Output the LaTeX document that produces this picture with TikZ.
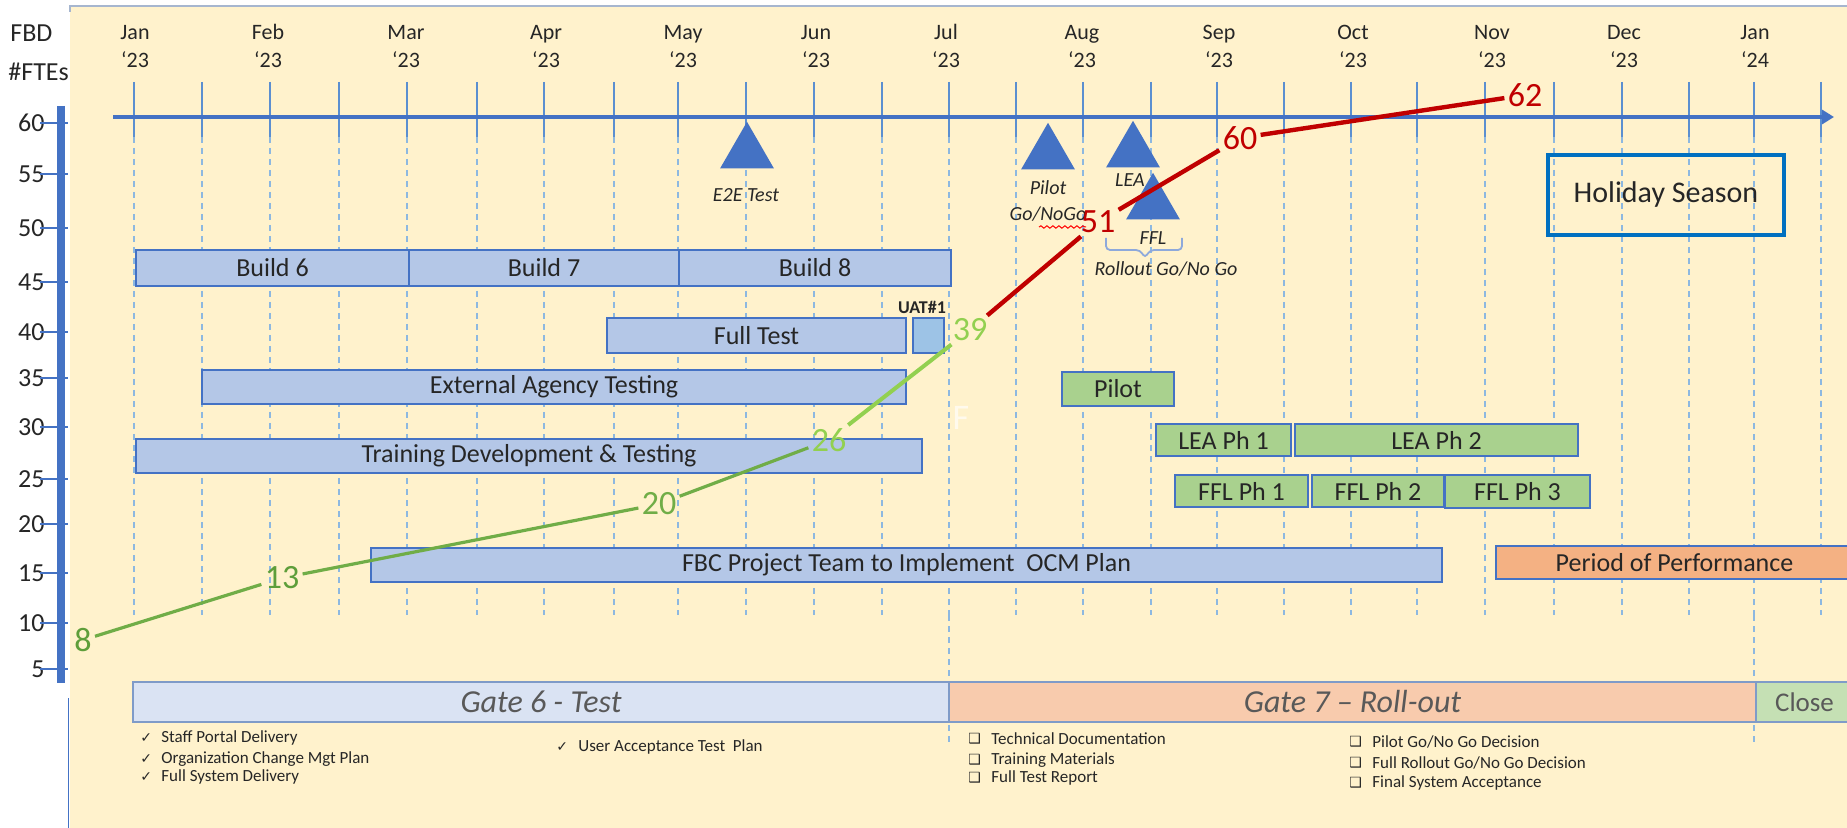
\documentclass[tikz,border=0pt]{standalone}
\usepackage{fontspec}
\setmainfont{Carlito}
\newfontfamily\symf{DejaVu Sans}
\usetikzlibrary{shapes.geometric,arrows.meta,decorations.pathmorphing}
\definecolor{bgy}{HTML}{FFF2CC}
\definecolor{axb}{HTML}{4472C4}
\definecolor{gridb}{HTML}{5B8FD0}
\definecolor{dashb}{HTML}{8DB8E0}
\definecolor{barb}{HTML}{B4C7E7}
\definecolor{barg}{HTML}{A9D18E}
\definecolor{uatb}{HTML}{9DC3E6}
\definecolor{perf}{HTML}{F4B183}
\definecolor{gsix}{HTML}{DAE3F3}
\definecolor{gseven}{HTML}{F8CBAD}
\definecolor{gclose}{HTML}{C5E0B4}
\definecolor{gateb}{HTML}{7F9BC8}
\definecolor{redl}{HTML}{C00000}
\definecolor{grnA}{HTML}{5E9E3A}
\definecolor{grnB}{HTML}{70AD47}
\definecolor{grnC}{HTML}{92D050}
\definecolor{holb}{HTML}{0070C0}
\definecolor{gatetxt}{HTML}{595959}
\definecolor{frameb}{HTML}{A6B6CF}
\definecolor{braceb}{HTML}{8EA9DB}
\definecolor{txt}{HTML}{262626}
\newcommand\mkbar[7]{\node[#1,anchor=north west,minimum width={0.5pt*(#4-#2)},minimum height={0.5pt*(#5-#3)}] (#6) at (#2,#3) {#7};}
\tikzset{
 ylab/.style={font=\fontsize{13}{15}\selectfont, inner sep=0pt, text=txt},
 mon/.style={font=\fontsize{11}{13}\selectfont, inner sep=0pt, text=txt, anchor=base},
 bar/.style={draw=axb, line width=1pt, fill=barb, inner sep=0pt, text=txt, font=\fontsize{13}{15}\selectfont},
 gbar/.style={bar, fill=barg},
 gatebar/.style={draw=gateb, line width=1pt, inner sep=0pt, text=gatetxt, font=\fontsize{16}{18}\selectfont\itshape},
 ms/.style={regular polygon, regular polygon sides=3, fill=axb, draw=none, minimum size=31pt, inner sep=0pt, anchor=corner 1},
 mslbl/.style={font=\fontsize{10}{12}\selectfont\itshape, inner sep=0pt, text=txt},
 num/.style={font=\fontsize{17}{19}\selectfont, inner sep=1.5pt},
 chk/.style={font=\fontsize{8.5}{10}\selectfont, inner sep=0pt, anchor=west, text=txt},
 sym/.style={font=\symf\fontsize{7}{8}\selectfont, inner sep=0pt, anchor=west, text=txt},
 dgrid/.style={dashb, line width=0.7pt, dash pattern=on 3pt off 2.5pt},
}
\begin{document}
\begin{tikzpicture}[x=0.5pt,y=-0.5pt]
\useasboundingbox (0,0) rectangle (1847,828);
\fill[white] (0,0) rectangle (1847,828);
% axis title (partly covered by the yellow panel)
\node[ylab, anchor=west] (fbd) at (10,33) {FBD};
\node[ylab, anchor=west] (ftes) at (8,72) {\#FTEs};
\fill[bgy] (70,6) rectangle (1847,828);
\draw[frameb, line width=1pt] (70,12) -- (70,6) -- (1847,6);
\draw[axb, line width=0.5pt] (68,698) -- (68,828);
% grid lines
\foreach \gx in {134,202,270,339,407,477,544,614,678,746,814,882,949,1016,1083,1151,1217,1284,1351,1417,1485,1554,1622,1689,1754,1821} {
  \draw[gridb, line width=0.7pt] (\gx,82) -- (\gx,137);
  \draw[dgrid] (\gx,137) -- (\gx,615);
}
\draw[dgrid] (949,615) -- (949,742);
\draw[dgrid] (1754,615) -- (1754,742);
% time axis
\draw[axb, line width=2pt, -{Triangle[length=6pt,width=7pt]}] (113,117) -- (1834,117);
% FTE axis
\draw[axb, line width=4pt] (61,106) -- (61,683);
\foreach \v/\yy in {60/123,55/174,50/228,45/282,40/332,35/378,30/427,25/479,20/524,15/573,10/623,5/669} {
  \node[ylab, anchor=east] (yl\v) at (45,\yy) {\v};
  \draw[axb, line width=1.2pt] (40,\yy) -- (68,\yy);
}
% month labels
\foreach \mx/\mn/\yr in {135/Jan/23,268/Feb/23,406/Mar/23,546/Apr/23,683/May/23,816/Jun/23,946/Jul/23,1082/Aug/23,1219/Sep/23,1353/Oct/23,1492/Nov/23,1624/Dec/23,1755/Jan/24} {
  \node[mon] (m\mn\yr) at (\mx,40) {\mn};
  \node[mon] (y\mn\yr) at (\mx,68) {‘\yr};
}
% holiday season
\node[draw=holb, line width=2pt, anchor=north west, minimum width=118pt, minimum height=40pt, inner sep=0pt, text=txt, font=\fontsize{15}{17}\selectfont] (hol) at (1546,153) {Holiday Season};
% bars
\mkbar{bar}{135}{249}{408}{285}{b6}{Build 6}
\mkbar{bar}{408}{249}{678}{285}{b7}{Build 7}
\mkbar{bar}{678}{249}{950}{285}{b8}{Build 8}
\mkbar{bar}{606}{317}{905}{352}{ft}{Full Test}
\mkbar{bar, fill=uatb}{912}{317}{943}{352}{uat}{}
\node[font=\fontsize{9}{10}\selectfont\bfseries, inner sep=0pt, text=txt] (uatl) at (922,307) {UAT\#1};
\mkbar{bar}{201}{369}{905}{403}{eat}{External Agency Testing}
\mkbar{bar}{135}{438}{921}{472}{tdt}{Training Development \& Testing}
\mkbar{bar}{370}{547}{1441}{581}{fbc}{FBC Project Team to Implement~ OCM Plan}
\mkbar{gbar}{1061}{371}{1173}{405}{pil}{Pilot}
\mkbar{gbar}{1155}{423}{1290}{455}{lea1}{LEA Ph 1}
\mkbar{gbar}{1294}{423}{1577}{455}{lea2}{LEA Ph 2}
\mkbar{gbar}{1174}{474}{1307}{506}{ffl1}{FFL Ph 1}
\mkbar{gbar}{1311}{474}{1443}{506}{ffl2}{FFL Ph 2}
\mkbar{gbar}{1444}{474}{1589}{507}{ffl3}{FFL Ph 3}
\mkbar{bar, fill=perf}{1495}{545}{1852}{578}{pop}{Period of Performance}
% gates
\mkbar{gatebar, fill=gsix}{132}{681}{948}{721}{gsx}{Gate 6 - Test}
\mkbar{gatebar, fill=gseven}{948}{681}{1755}{721}{gsv}{Gate 7 – Roll-out}
\mkbar{gatebar, fill=gclose, font=\fontsize{13.5}{15}\selectfont}{1755}{681}{1852}{721}{gcl}{Close}
% checklists
\node[sym] (c1) at (140,738) {✓}; \node[chk] (t1) at (161,738) {Staff Portal Delivery};
\node[sym] (c2) at (140,759) {✓}; \node[chk] (t2) at (161,759) {Organization Change Mgt Plan};
\node[sym] (c3) at (140,777) {✓}; \node[chk] (t3) at (161,777) {Full System Delivery};
\node[sym] (c4) at (556,747) {✓}; \node[chk] (t4) at (578,747) {User Acceptance Test~ Plan};
\node[sym] (d1) at (968,739) {❑}; \node[chk] (u1) at (991,739) {Technical Documentation};
\node[sym] (d2) at (968,760) {❑}; \node[chk] (u2) at (991,760) {Training Materials};
\node[sym] (d3) at (968,778) {❑}; \node[chk] (u3) at (991,778) {Full Test Report};
\node[sym] (d4) at (1349,742) {❑}; \node[chk] (u4) at (1372,742) {Pilot Go/No Go Decision};
\node[sym] (d5) at (1349,763) {❑}; \node[chk] (u5) at (1372,763) {Full Rollout Go/No Go Decision};
\node[sym] (d6) at (1349,783) {❑}; \node[chk] (u6) at (1372,783) {Final System Acceptance};
% milestones
\node[ms] (tE2E) at (747,121) {};
\node[mslbl] (lE2E) at (746,195) {E2E Test};
\node[ms] (tPil) at (1048,122) {};
\node[mslbl, align=center] (lPil) at (1048,201) {Pilot\\[1pt]Go/NoGo};
\draw[red, line width=0.5pt, decorate, decoration={snake, amplitude=0.6pt, segment length=3pt}] (1039,227) -- (1086,227);
\node[ms] (tLEA) at (1133,120) {};
\node[mslbl] (lLEA) at (1130,180) {LEA};
\node[ms] (tFFL) at (1153,172) {};
\node[mslbl] (lFFL) at (1153,238) {FFL};
\draw[braceb, line width=0.9pt, rounded corners=2pt] (1106,238) -- (1106,250) -- (1140,250) -- (1145,258) -- (1150,250) -- (1182,250) -- (1182,238);
\node[mslbl] (lRoll) at (1166,269) {Rollout Go/No Go};
% faint letter
\node[font=\fontsize{18}{20}\selectfont, inner sep=0pt, text=white!65!bgy] (ghost) at (961,418) {F};
% FTE curve
\node[num, text=grnA] (n8) at (83,640) {8};
\node[num, text=grnA] (n13) at (282,578) {13};
\node[num, text=grnB] (n20) at (659,504) {20};
\node[num, text=grnC] (n26) at (829,440) {26};
\node[num, text=grnC] (n39) at (970,330) {39};
\node[num, text=redl] (n51) at (1098,222) {51};
\node[num, text=redl] (n60) at (1240,138) {60};
\node[num, text=redl] (n62) at (1525,95) {62};
\draw[grnB, line width=1.6pt] (n8) -- (n13) -- (n20) -- (n26);
\draw[grnC, line width=2pt] (n26) -- (n39);
\draw[redl, line width=2.2pt] (n39) -- (n51) -- (n60) -- (n62);
\end{tikzpicture}
\end{document}
